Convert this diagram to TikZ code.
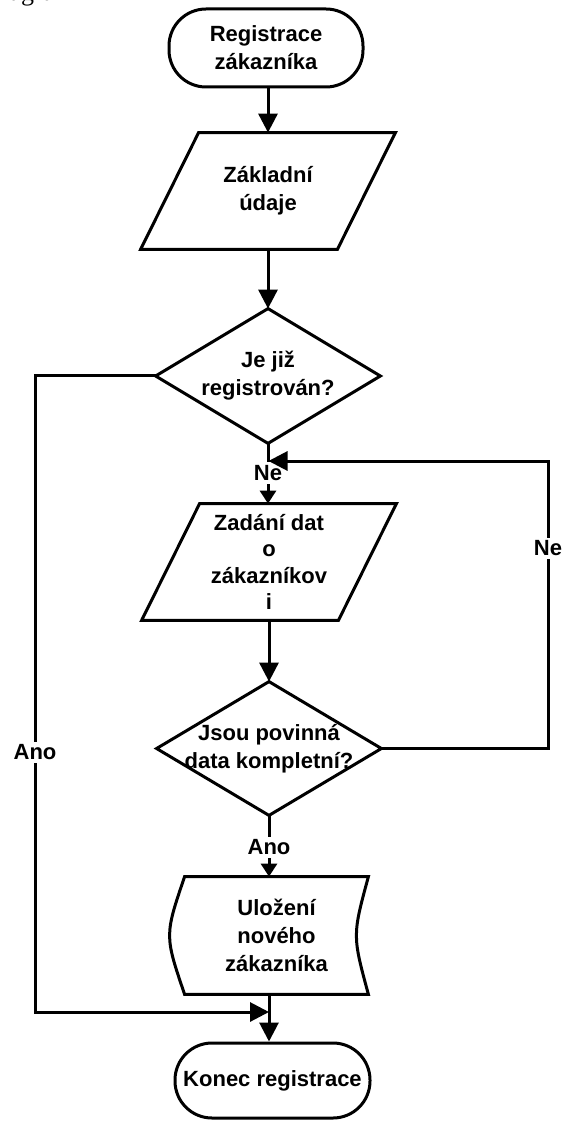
\documentclass[tikz,border=0pt]{standalone}
\usepackage{fontspec}
\setmainfont{Liberation Sans}
\newfontfamily\diagserif{Liberation Serif}
\usetikzlibrary{arrows.meta,calc}
\begin{document}
\begin{tikzpicture}[x=0.5pt,y=-0.5pt,
  every node/.style={font=\bfseries\fontsize{11}{14}\selectfont, align=center, inner sep=0pt},
  line/.style={line width=1.5pt, line join=miter},
  arr/.style={line, -{Triangle[width=9.5pt,length=9.5pt]}},
  sarr/.style={line, -{Triangle[width=8pt,length=6.5pt]}},
  term/.style={draw, line width=1.5pt, rounded corners=18.5pt, minimum width=97pt, minimum height=39pt},
  lbl/.style={fill=white, inner sep=1.5pt}]
\useasboundingbox (0,0) rectangle (565,1122);
\node[font=\diagserif\fontsize{13}{15}\selectfont, anchor=base east] (cap) at (75,1) {diagram};

\node[term] (t1) at (266,48) {Registrace\\zákazníka};

\node[minimum width=98pt, minimum height=58pt] (p1) at (268,191) {Základní\\údaje};
\draw[line] ($(p1.north west)+(14.5pt,0)$) -- ($(p1.north east)+(14.5pt,0)$)
  -- ($(p1.south east)-(14.5pt,0)$) -- ($(p1.south west)-(14.5pt,0)$) -- cycle;

\node[minimum width=112pt, minimum height=67pt] (d1) at (268,376) {Je již\\registrován?};
\draw[line] (d1.north) -- (d1.east) -- (d1.south) -- (d1.west) -- cycle;

\node[minimum width=98pt, minimum height=58pt, font=\bfseries\fontsize{11}{13.3}\selectfont] (p2) at (269,562) {Zadání dat\\o\\zákazníkov\\i};
\draw[line] ($(p2.north west)+(14.5pt,0)$) -- ($(p2.north east)+(14.5pt,0)$)
  -- ($(p2.south east)-(14.5pt,0)$) -- ($(p2.south west)-(14.5pt,0)$) -- cycle;

\node[minimum width=112pt, minimum height=66.5pt] (d2) at (269,748.5) {Jsou povinná\\data kompletní?};
\draw[line] (d2.north) -- (d2.east) -- (d2.south) -- (d2.west) -- cycle;

\node[minimum width=91.5pt, minimum height=58.5pt] (st) at (276.5,935.5) {Uložení\\nového\\zákazníka};
\draw[line] (st.north west) -- (st.north east)
  .. controls ($(st.east)+(-8pt,0)$) .. (st.south east)
  -- (st.south west)
  .. controls ($(st.west)+(-10pt,0)$) .. (st.north west) -- cycle;

\node[term, minimum width=97.5pt, minimum height=37.5pt] (t2) at (272.5,1080.5) {Konec registrace};

\coordinate (rc) at (548,461);
\coordinate (j1) at (268.5,461);
\coordinate (lc) at (35,1012);
\coordinate (j2) at (269,1012);

\draw[arr] (t1.south -| p1.north) -- (p1.north);
\draw[arr] (p1.south) -- (d1.north);
\draw[sarr] (d1.south) -- (d1.south |- p2.north) node[lbl, pos=0.49] {Ne};
\draw[arr] (p2.south -| d2.north) -- (d2.north);
\draw[sarr] (d2.south) -- (d2.south |- st.north) node[lbl, pos=0.52] {Ano};
\draw[arr] (d2.east) -| (rc) node[lbl, pos=0.848] {Ne} -- (j1);
\draw[arr] (d1.west) -| (lc) node[lbl, pos=0.796] {Ano} -- (j2);
\draw[arr] (d2.south |- st.south) -- (d2.south |- t2.north);
\end{tikzpicture}
\end{document}
